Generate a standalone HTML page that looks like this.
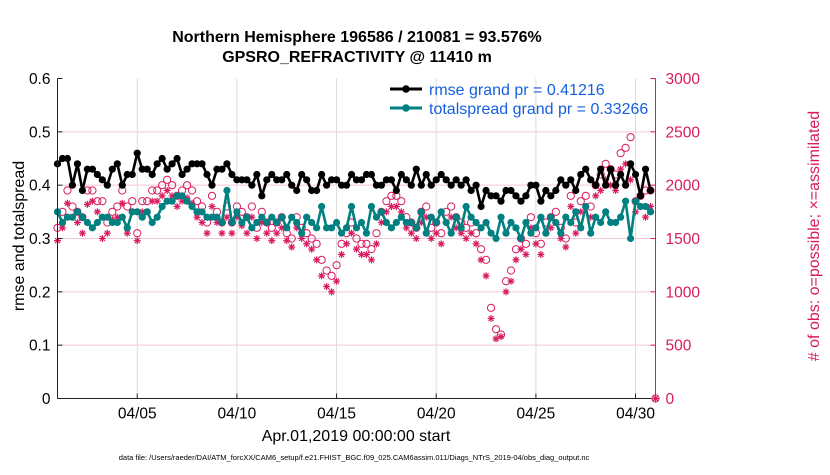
<!DOCTYPE html>
<html><head><meta charset="utf-8"><style>
body{margin:0;background:#fff;}
svg{font-family:"Liberation Sans",Arial,sans-serif;}
</style></head><body>
<svg id="chart" width="830" height="470" viewBox="0 0 830 470" xmlns="http://www.w3.org/2000/svg">
<text x="357" y="42" text-anchor="middle" font-size="16" font-weight="bold">Northern Hemisphere 196586 / 210081 = 93.576%</text>
<text x="357" y="62" text-anchor="middle" font-size="16" font-weight="bold">GPSRO_REFRACTIVITY @ 11410 m</text>
<g id="grid"></g>
<g id="marks"></g>
<g id="axes"></g>
<text transform="translate(24,236) rotate(-90)" text-anchor="middle" font-size="16">rmse and totalspread</text>
<text transform="translate(819,236) rotate(-90)" text-anchor="middle" font-size="16" fill="#d81b60"># of obs: o=possible; ×=assimilated</text>
<text x="356" y="441" text-anchor="middle" font-size="16">Apr.01,2019 00:00:00 start</text>
<text x="354" y="460" text-anchor="middle" font-size="7.5">data file: /Users/raeder/DAI/ATM_forcXX/CAM6_setup/f.e21.FHIST_BGC.f09_025.CAM6assim.011/Diags_NTrS_2019-04/obs_diag_output.nc</text>
<g>
<line x1="390" y1="89" x2="422" y2="89" stroke="#000" stroke-width="3"/>
<circle cx="406" cy="89" r="3.8" fill="#000"/>
<text x="429" y="95" font-size="16" fill="#1560e0">rmse grand pr = 0.41216</text>
<line x1="390" y1="108" x2="422" y2="108" stroke="#008080" stroke-width="3"/>
<circle cx="406" cy="108" r="3.8" fill="#008080"/>
<text x="429" y="114" font-size="16" fill="#1560e0">totalspread grand pr = 0.33266</text>
</g>
</svg>
<script>
const rmse=[.44,.45,.45,.40,.44,.39,.43,.43,.42,.41,.40,.43,.44,.40,.42,.42,.46,.43,.43,.42,.44,.45,.43,.44,.45,.42,.43,.44,.44,.44,.42,.40,.43,.43,.44,.42,.41,.41,.41,.40,.42,.38,.41,.42,.41,.41,.42,.40,.39,.42,.41,.39,.39,.42,.40,.41,.41,.40,.40,.42,.41,.41,.42,.42,.40,.40,.41,.41,.39,.42,.41,.40,.43,.40,.42,.40,.41,.42,.41,.40,.41,.40,.41,.39,.40,.36,.39,.38,.38,.37,.39,.39,.38,.37,.38,.40,.40,.37,.39,.38,.39,.41,.40,.41,.39,.42,.43,.41,.40,.43,.40,.43,.40,.42,.40,.44,.42,.38,.43,.39];
const spread=[.35,.33,.34,.34,.35,.34,.33,.32,.33,.34,.34,.33,.33,.34,.32,.35,.35,.34,.35,.33,.34,.36,.37,.37,.38,.38,.37,.36,.35,.35,.34,.34,.34,.33,.39,.33,.35,.33,.34,.32,.33,.34,.33,.34,.33,.34,.32,.34,.33,.31,.34,.33,.32,.36,.32,.32,.33,.31,.32,.36,.32,.33,.31,.36,.34,.35,.33,.32,.33,.34,.33,.33,.32,.35,.31,.34,.33,.35,.33,.31,.34,.32,.36,.34,.33,.32,.33,.31,.30,.34,.31,.33,.32,.30,.33,.31,.32,.34,.31,.34,.33,.31,.34,.33,.35,.32,.36,.31,.34,.33,.35,.33,.33,.34,.37,.30,.37,.36,.36,.35];
const possible=[1600,1750,1950,1800,1750,1700,1950,1950,1850,1850,1650,1750,1800,1950,1800,1850,1550,1850,1850,1950,1950,2000,2050,2000,1900,1950,2000,1950,1850,1800,1650,1900,1750,1650,1800,1650,1800,1750,1700,1800,1600,1750,1650,1600,1650,1700,1550,1500,1700,1600,1550,1500,1450,1300,1200,1150,1250,1450,1550,1650,1500,1450,1450,1400,1550,1750,1850,1900,1900,1850,1700,1650,1600,1750,1800,1600,1650,1550,1750,1800,1700,1650,1600,1650,1550,1400,1300,850,650,600,1100,1200,1400,1500,1450,1700,1550,1450,1650,1700,1750,1600,1500,1900,1650,1850,1900,1800,2000,2100,2200,2150,2100,2300,2350,2450,1850,1900,1950,1950,0];
const assimilated=[1480,1600,1830,1700,1650,1550,1820,1850,1750,1500,1550,1680,1700,1830,1550,1750,1480,1750,1750,1850,1850,1900,1950,1900,1800,1850,1880,1830,1700,1650,1550,1800,1650,1550,1700,1550,1700,1620,1550,1700,1500,1650,1550,1480,1550,1600,1480,1420,1600,1500,1450,1400,1300,1150,1050,1000,1100,1350,1450,1550,1400,1350,1350,1300,1450,1650,1750,1800,1800,1750,1600,1550,1500,1650,1700,1500,1550,1450,1650,1700,1600,1550,1500,1550,1450,1300,1150,750,560,580,1000,1100,1300,1400,1350,1600,1450,1350,1550,1600,1650,1500,1420,1800,1550,1750,1800,1700,1900,1950,2050,2000,1950,2150,2200,2050,1750,1800,1700,1800,0];
const xTickDays=[4,9,14,19,24,29];
const xTickLabels=["04/05","04/10","04/15","04/20","04/25","04/30"];
const yTicks=[0,0.1,0.2,0.3,0.4,0.5,0.6];
const y2Ticks=[0,500,1000,1500,2000,2500,3000];

const NS="http://www.w3.org/2000/svg";
const X0=57.5,X1=655.5,Y0=398.5,Y1=78.5;
const xs=d=>X0+(d/30)*(X1-X0);
const ys=v=>Y0-(v/0.6)*(Y0-Y1);
const ys2=v=>Y0-(v/3000)*(Y0-Y1);
const tOf=i=>i*0.25;
function mk(tag,attrs,parent){const e=document.createElementNS(NS,tag);for(const k in attrs)e.setAttribute(k,attrs[k]);parent.appendChild(e);return e;}
const grid=document.getElementById('grid'),marks=document.getElementById('marks'),axes=document.getElementById('axes');

yTicks.forEach((v,i)=>{if(v>0&&v<0.6){const l=mk('line',{x1:X0,x2:X1,y1:ys(v),y2:ys(v),stroke:'#f3c6d6','stroke-width':1},grid);

}});
xTickDays.forEach(d=>{const l=mk('line',{x1:xs(d),x2:xs(d),y1:Y1,y2:Y0,stroke:'#dcdcdc','stroke-width':1},grid);

});

assimilated.forEach((v,i)=>{const x=xs(tOf(i)),y=ys2(v);const g=mk('g',{stroke:'#d81b60','stroke-width':1.2},marks);


mk('line',{x1:x-3.5,x2:x+3.5,y1:y,y2:y},g);mk('line',{x1:x,x2:x,y1:y-3.5,y2:y+3.5},g);
mk('line',{x1:x-2.5,x2:x+2.5,y1:y-2.5,y2:y+2.5},g);mk('line',{x1:x-2.5,x2:x+2.5,y1:y+2.5,y2:y-2.5},g);});
possible.forEach((v,i)=>{const c=mk('circle',{cx:xs(tOf(i)),cy:ys2(v),r:3.6,fill:'none',stroke:'#d81b60','stroke-width':1},marks);

});

function series(arr,color,name){
  const pts=arr.map((v,i)=>xs(tOf(i))+','+ys(v)).join(' ');
  const pl=mk('polyline',{points:pts,fill:'none',stroke:color,'stroke-width':2.6,'stroke-linejoin':'round'},marks);
  
  
  arr.forEach((v,i)=>{const c=mk('circle',{cx:xs(tOf(i)),cy:ys(v),r:3.6,fill:color},marks);
  
  });
}
series(spread,'#008080','totalspread');
series(rmse,'#000','rmse');

const la=mk('line',{x1:X0,x2:X0,y1:Y1,y2:Y0,stroke:'#222','stroke-width':1},axes);


const ba=mk('line',{x1:X0,x2:X1,y1:Y0,y2:Y0,stroke:'#222','stroke-width':1},axes);


const ra=mk('line',{x1:X1,x2:X1,y1:Y1,y2:Y0,stroke:'#d81b60','stroke-width':1},axes);


yTicks.forEach(v=>{mk('line',{x1:X0,x2:X0+5,y1:ys(v),y2:ys(v),stroke:'#222'},axes);
const t=mk('text',{x:X0-7,y:ys(v)+5.5,'text-anchor':'end','font-size':15.5},axes);t.textContent=String(v);

});
y2Ticks.forEach(v=>{mk('line',{x1:X1-5,x2:X1,y1:ys2(v),y2:ys2(v),stroke:'#d81b60'},axes);
const t=mk('text',{x:X1+10,y:ys2(v)+5.5,'font-size':15.5,fill:'#d81b60'},axes);t.textContent=String(v);

});
xTickDays.forEach((d,i)=>{mk('line',{x1:xs(d),x2:xs(d),y1:Y0,y2:Y0-5,stroke:'#222'},axes);
const t=mk('text',{x:xs(d),y:Y0+20,'text-anchor':'middle','font-size':15.5},axes);t.textContent=xTickLabels[i];

});
</script>
</body></html>
